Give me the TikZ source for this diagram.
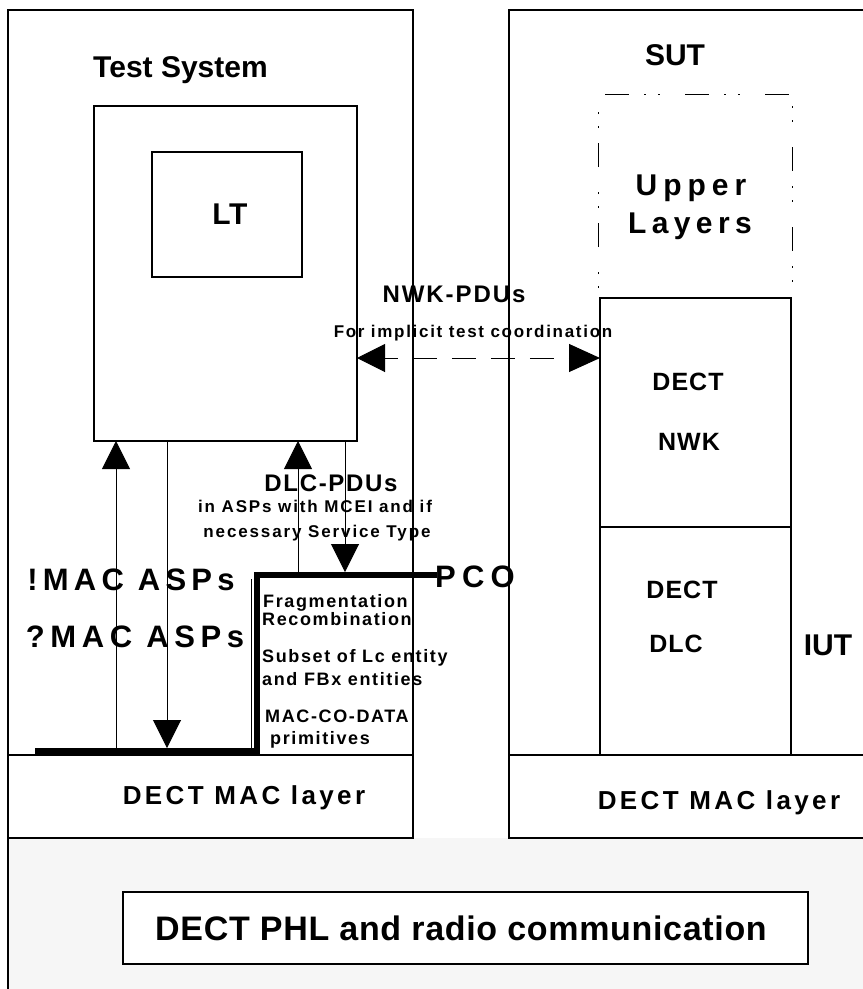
\documentclass[tikz,border=0pt]{standalone}
\usepackage{fontspec}
\setmainfont{Liberation Sans}
\usetikzlibrary{arrows.meta}
\newcommand{\tx}[2]{\fontsize{#1pt}{#1pt}\selectfont\bfseries\addfontfeature{LetterSpace=#2}}
\definecolor{phlgray}{HTML}{F6F6F6}
\begin{document}
\begin{tikzpicture}[x=1pt,y=-1pt,
  frame/.style={draw, line width=2pt, inner sep=0pt, outer sep=0pt},
  thinline/.style={line width=1pt},
  bigarrow/.style={thinline, -{Triangle[length=28pt,width=28pt]}},
  lbl/.style={inner sep=0pt, anchor=base},
  lblw/.style={inner sep=0pt, anchor=base west, font=\tx{18}{9}}]
\useasboundingbox (0,0) rectangle (863,989);
\clip (0,0) rectangle (863,989);
% bottom gray area
\fill[phlgray] (8,838) rectangle (880,1000);
\draw[line width=2pt] (8,838) -- (8,1000);
% main frames
\node[frame, minimum width=405pt, minimum height=828pt] (ts) at (210.5,424) {};
\node[frame, minimum width=405pt, minimum height=83pt] (mac1) at (210.5,796.5) {};
\node[frame, minimum width=366pt, minimum height=828pt] (sut) at (692,424) {};
\node[frame, minimum width=366pt, minimum height=83pt] (mac2) at (692,796.5) {};
\node[frame, minimum width=263pt, minimum height=335pt] (ltouter) at (225.5,273.5) {};
\node[frame, minimum width=150pt, minimum height=125pt] (lt) at (227,214.5) {};
\node[frame, minimum width=191pt, minimum height=229pt] (nwk) at (695.5,412.5) {};
\node[frame, minimum width=191pt, minimum height=228pt] (dlc) at (695.5,641) {};
\node[frame, fill=white, minimum width=685pt, minimum height=72pt] (phl) at (465.5,928) {};
% upper layers (dash-dot-dot)
\coordinate (ul1) at (598,298);
\coordinate (ul2) at (598,94);
\coordinate (ul3) at (792,94);
\coordinate (ul4) at (792,298);
\draw[line width=1pt, dash pattern=on 24pt off 15pt on 2pt off 12pt on 2pt off 25pt, dash phase=29pt]
  (ul1) -- (ul2) -- (ul3) -- (ul4);
% thick PCO line
\coordinate (p0) at (35,751);
\coordinate (p1) at (257,751);
\coordinate (p2) at (257,575);
\coordinate (p3) at (437,575);
\draw[line width=6pt, line join=miter] (p0) -- (p1) -- (p2) -- (p3);
\coordinate (q0) at (251,579);
\coordinate (q1) at (251,750);
\draw[line width=0.8pt] (q0) -- (q1);
% vertical arrows
\coordinate (a1) at (116,751);
\draw[bigarrow] (a1) -- (a1 |- ltouter.south);
\coordinate (a2) at (167,748);
\draw[bigarrow] (a2 |- ltouter.south) -- (a2);
\coordinate (a3) at (298,572);
\draw[bigarrow] (a3) -- (a3 |- ltouter.south);
\coordinate (a4) at (345,572);
\draw[bigarrow] (a4 |- ltouter.south) -- (a4);
% NWK-PDU dashed double arrow
\coordinate (ny) at (480,358);
\draw[thinline, dash pattern=on 24pt off 15pt, dash phase=11pt,
  {Triangle[length=28pt,width=28pt]}-{Triangle[length=31pt,width=28pt]}]
  (ny -| ltouter.east) -- (ny -| nwk.west);
% texts
\node[lbl, font=\tx{30}{0}] (tstitle) at (180.5,77) {Test System};
\node[lbl, font=\tx{30}{2}] (lttext) at (230,224) {LT};
\node[lbl, font=\tx{30}{0}] (suttext) at (675,65) {SUT};
\node[lbl, font=\tx{30}{20}] (upper1) at (691,195) {Upper};
\node[lbl, font=\tx{30}{18}] (upper2) at (690,233) {Layers};
\node[lbl, font=\tx{24}{8}] (nwkpdu) at (454,302) {NWK-PDUs};
\node[lbl, font=\tx{17}{10}] (forimp) at (473,337) {For implicit test coordination};
\node[lbl, font=\tx{25}{4}] (dect1) at (688,390) {DECT};
\node[lbl, font=\tx{25}{4}] (nwkt) at (689,450) {NWK};
\node[lbl, font=\tx{25}{4}] (dect2) at (682,598) {DECT};
\node[lbl, font=\tx{25}{4}] (dlct) at (676,652) {DLC};
\node[lbl, font=\tx{30}{0}] (iut) at (828,655) {IUT};
\node[lbl, font=\tx{24}{7}] (dlcpdu) at (331,491) {DLC-PDUs};
\node[lbl, font=\tx{17}{11}] (inasp) at (315,512) {in ASPs with MCEI and if};
\node[lbl, font=\tx{17}{11}] (necess) at (317,537) {necessary Service Type};
\node[lbl, font=\tx{31}{17}] (macx) at (131,590) {!MAC ASPs};
\node[lbl, font=\tx{31}{18}] (macq) at (135,647) {?MAC ASPs};
\node[lbl, font=\tx{31}{20}] (pco) at (475,587) {PCO};
\node[lblw] (fr1) at (263,607) {Fragmentation};
\node[lblw] (fr2) at (262,625) {Recombination};
\node[lblw] (fr3) at (262,662) {Subset of Lc entity};
\node[lblw] (fr4) at (262,685) {and FBx entities};
\node[lblw] (fr5) at (265,722) {MAC-CO-DATA};
\node[lblw] (fr6) at (270,744) {primitives};
\node[lbl, font=\tx{26}{13}] (macl1) at (244,804) {DECT MAC layer};
\node[lbl, font=\tx{26}{13}] (macl2) at (719,809) {DECT MAC layer};
\node[lbl, font=\tx{34}{2}] (phlt) at (461,940) {DECT PHL and radio communication};
\end{tikzpicture}
\end{document}
